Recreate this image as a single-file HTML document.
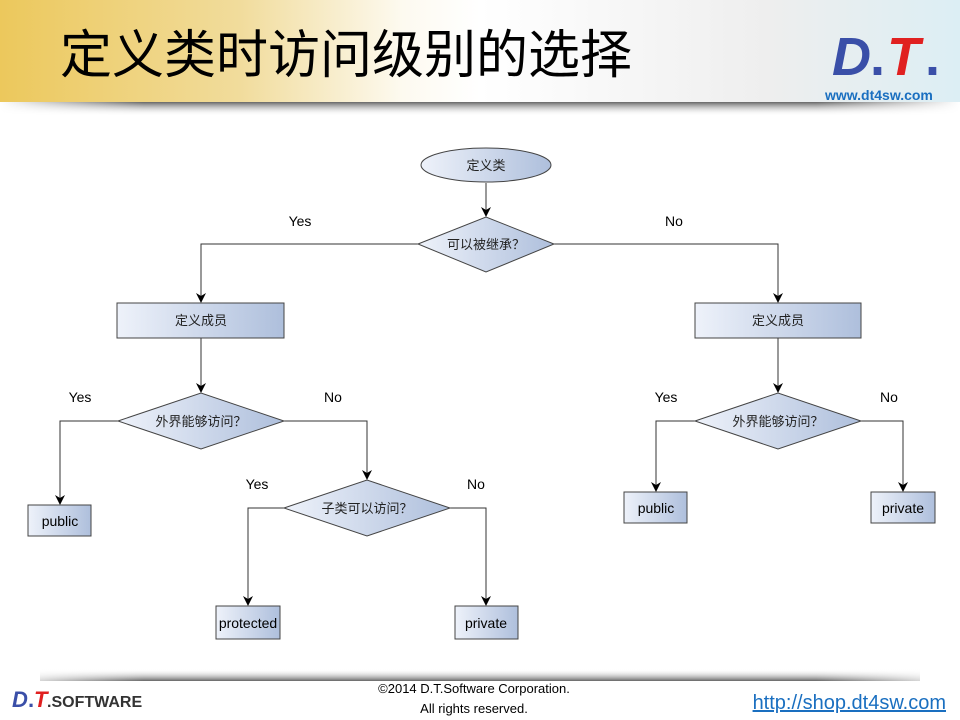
<!DOCTYPE html>
<html><head><meta charset="utf-8"><style>
body{margin:0;width:960px;height:720px;overflow:hidden;background:#fff;font-family:"Liberation Sans","Noto Sans CJK SC",sans-serif}
</style></head><body>
<svg width="960" height="720" xmlns="http://www.w3.org/2000/svg" style="position:absolute;left:0;top:0">
<defs>
<linearGradient id="hdr" x1="0" x2="1" y1="0" y2="0">
<stop offset="0" stop-color="#ecc85c"/><stop offset="0.25" stop-color="#f1dc9c"/><stop offset="0.42" stop-color="#fdfaf0"/><stop offset="0.5" stop-color="#ffffff"/><stop offset="0.8" stop-color="#eeeeee"/><stop offset="1" stop-color="#dceef4"/>
</linearGradient>
<linearGradient id="sh" x1="0" x2="0" y1="0" y2="1">
<stop offset="0" stop-color="#555" stop-opacity="0.9"/><stop offset="1" stop-color="#fff" stop-opacity="0"/>
</linearGradient>
<linearGradient id="shx" x1="0" x2="1">
<stop offset="0" stop-color="#fff" stop-opacity="1"/><stop offset="0.15" stop-color="#fff" stop-opacity="0"/><stop offset="0.85" stop-color="#fff" stop-opacity="0"/><stop offset="1" stop-color="#fff" stop-opacity="1"/>
</linearGradient>
<linearGradient id="nf" x1="0" x2="1">
<stop offset="0" stop-color="#eef2fa"/><stop offset="1" stop-color="#aebfdc"/>
</linearGradient>
<marker id="ar" markerWidth="10" markerHeight="10" refX="9" refY="5" orient="auto" markerUnits="userSpaceOnUse">
<path d="M0,0 L10,5 L0,10 L3,5 Z" fill="#000"/>
</marker>
</defs>
<rect x="0" y="0" width="960" height="102" fill="url(#hdr)"/>
<rect x="0" y="102" width="960" height="14" fill="url(#sh)"/>
<rect x="0" y="102" width="960" height="14" fill="url(#shx)"/>
<text x="60" y="73" font-size="52" fill="#000" font-family="Noto Sans CJK SC,sans-serif">定义类时访问级别的选择</text>
<text x="832" y="75" font-size="54" font-weight="bold" font-style="italic" fill="#3a4fa8">D</text>
<text x="870" y="75" font-size="54" font-weight="bold" fill="#3a4fa8">.</text>
<text x="887" y="75" font-size="54" font-weight="bold" font-style="italic" fill="#e02020">T</text>
<text x="925" y="75" font-size="54" font-weight="bold" fill="#3a4fa8">.</text>
<text x="825" y="100" font-size="14" fill="#1a6fc0" font-weight="bold">www.dt4sw.com</text>

<g fill="none" stroke="#333" stroke-width="1">
<line x1="486" y1="183" x2="486" y2="216" marker-end="url(#ar)"/>
<polyline points="418,244 201,244 201,302" marker-end="url(#ar)"/>
<polyline points="554,244 778,244 778,302" marker-end="url(#ar)"/>
<line x1="201" y1="338" x2="201" y2="392" marker-end="url(#ar)"/>
<line x1="778" y1="338" x2="778" y2="392" marker-end="url(#ar)"/>
<polyline points="118,421 60,421 60,504" marker-end="url(#ar)"/>
<polyline points="284,421 367,421 367,479" marker-end="url(#ar)"/>
<polyline points="284,508 248,508 248,605" marker-end="url(#ar)"/>
<polyline points="450,508 486,508 486,605" marker-end="url(#ar)"/>
<polyline points="695,421 656,421 656,491" marker-end="url(#ar)"/>
<polyline points="861,421 903,421 903,491" marker-end="url(#ar)"/>
</g>
<g stroke="#444" stroke-width="1" fill="url(#nf)">
<ellipse cx="486" cy="165" rx="65" ry="17"/>
<polygon points="418,244 486,217 554,244 486,272"/>
<rect x="117" y="303" width="167" height="35"/>
<rect x="695" y="303" width="166" height="35"/>
<polygon points="118,421 201,393 284,421 201,449"/>
<polygon points="695,421 778,393 861,421 778,449"/>
<polygon points="284,508 367,480 450,508 367,536"/>
<rect x="28" y="505" width="63" height="31"/>
<rect x="216" y="606" width="64" height="33"/>
<rect x="455" y="606" width="63" height="33"/>
<rect x="624" y="492" width="63" height="31"/>
<rect x="871" y="492" width="64" height="31"/>
</g>
<g font-size="13" fill="#222" text-anchor="middle" font-family="Noto Sans CJK SC,sans-serif">
<text x="486" y="170">定义类</text>
<text x="486" y="249">可以被继承？</text>
<text x="201" y="325">定义成员</text>
<text x="778" y="325">定义成员</text>
<text x="201" y="426">外界能够访问？</text>
<text x="778" y="426">外界能够访问？</text>
<text x="367" y="513">子类可以访问？</text>
</g>
<g font-size="14" fill="#000" text-anchor="middle">
<text x="60" y="526">public</text>
<text x="248" y="628">protected</text>
<text x="486" y="628">private</text>
<text x="656" y="513">public</text>
<text x="903" y="513">private</text>
<text x="300" y="226">Yes</text>
<text x="674" y="226">No</text>
<text x="80" y="402">Yes</text>
<text x="333" y="402">No</text>
<text x="257" y="489">Yes</text>
<text x="476" y="489">No</text>
<text x="666" y="402">Yes</text>
<text x="889" y="402">No</text>
</g>

<rect x="40" y="669" width="880" height="12" fill="url(#sh)" transform="rotate(180 480 675)"/>
<rect x="0" y="669" width="960" height="12" fill="url(#shx)"/>
<text x="12" y="707" font-size="22" font-weight="bold" font-style="italic" fill="#3a4fa8">D</text>
<text x="28" y="707" font-size="22" font-weight="bold" fill="#3a4fa8">.</text>
<text x="34" y="707" font-size="22" font-weight="bold" font-style="italic" fill="#e02020">T</text>
<text x="47" y="707" font-size="16" font-weight="bold" fill="#333">.SOFTWARE</text>
<text x="474" y="693" font-size="13" fill="#000" text-anchor="middle">©2014 D.T.Software Corporation.</text>
<text x="474" y="713" font-size="13" fill="#000" text-anchor="middle">All rights reserved.</text>
<text x="946" y="709" font-size="20" fill="#1a6fc0" text-anchor="end" text-decoration="underline">http://shop.dt4sw.com</text>
</svg>
</body></html>
